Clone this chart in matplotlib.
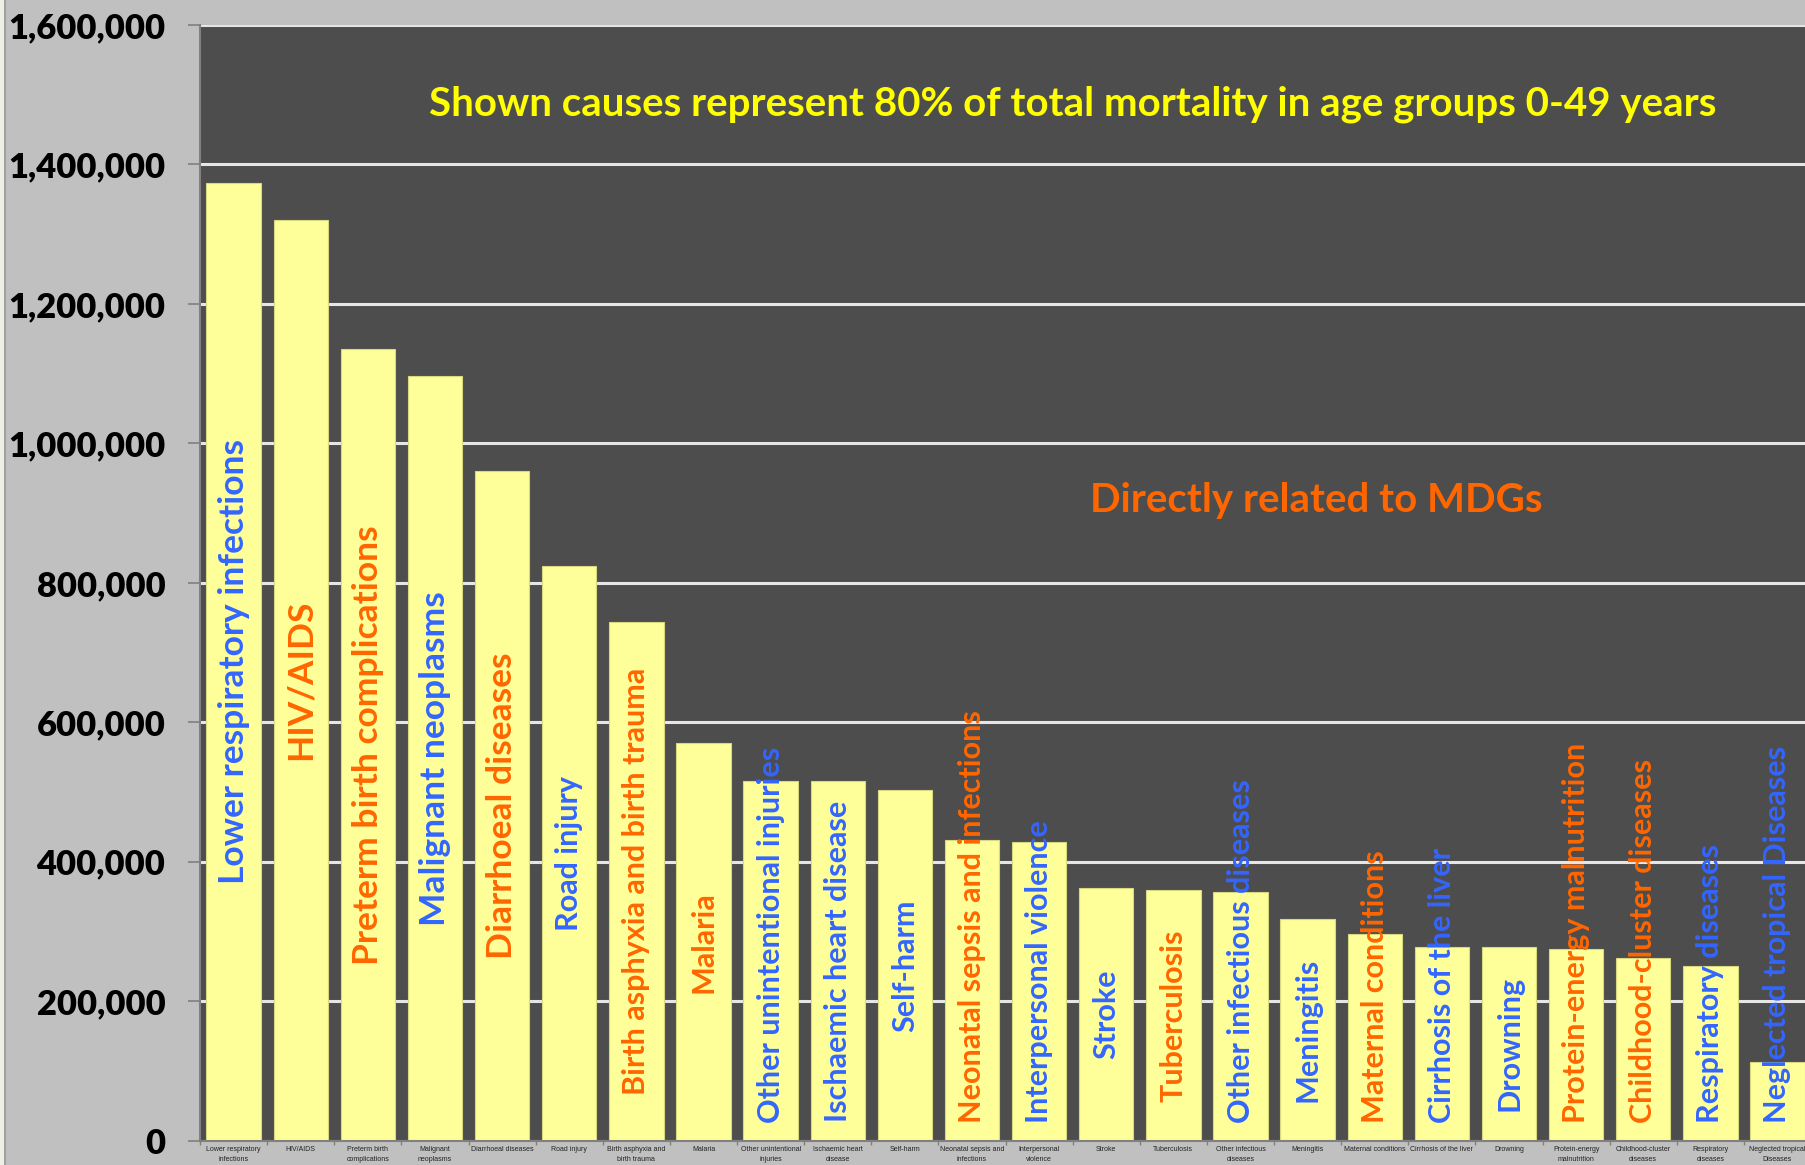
import numpy as np
import matplotlib.pyplot as plt
from matplotlib.patches import Rectangle
from matplotlib.ticker import FuncFormatter

# dati
causes = ['Lower respiratory infections', 'HIV/AIDS', 'Preterm birth complications',
          'Malignant neoplasms', 'Diarrhoeal diseases', 'Road injury',
          'Birth asphyxia and birth trauma', 'Malaria', 'Other unintentional injuries',
          'Ischaemic heart disease', 'Self-harm', 'Neonatal sepsis and infections',
          'Interpersonal violence', 'Stroke', 'Tuberculosis', 'Other infectious diseases',
          'Meningitis', 'Maternal conditions', 'Cirrhosis of the liver', 'Drowning',
          'Protein-energy malnutrition', 'Childhood-cluster diseases',
          'Respiratory diseases', 'Neglected tropical Diseases']
tick_labels = ['Lower respiratory\ninfections', 'HIV/AIDS', 'Preterm birth\ncomplications',
               'Malignant\nneoplasms', 'Diarrhoeal diseases', 'Road injury',
               'Birth asphyxia and\nbirth trauma', 'Malaria', 'Other unintentional\ninjuries',
               'Ischaemic heart\ndisease', 'Self-harm', 'Neonatal sepsis and\ninfections',
               'Interpersonal\nviolence', 'Stroke', 'Tuberculosis', 'Other infectious\ndiseases',
               'Meningitis', 'Maternal conditions', 'Cirrhosis of the liver', 'Drowning',
               'Protein-energy\nmalnutrition', 'Childhood-cluster\ndiseases',
               'Respiratory\ndiseases', 'Neglected tropical\nDiseases']
deaths = [1373500, 1321000, 1135500, 1096000, 961100, 824700, 743700, 570200,
          515700, 515200, 502800, 431500, 428200, 362300, 359000, 357300,
          317400, 296800, 278100, 278100, 274400, 261500, 250000, 113300]
# True = direttamente legato agli MDG (arancione)
mdg = [False, True, True, False, True, False, True, True, False, False, False, True,
       False, False, True, False, False, True, False, False, True, True, False, False]

blue = '#3366FF'
orange = '#FF6600'

fig = plt.figure(figsize=(18.06, 11.65), dpi=100, facecolor='#C0C0C0')
ax = fig.add_axes([0.1108, 0.0209, 0.892, 0.9576])
ax.set_facecolor('#4D4D4D')

x = np.arange(len(deaths))
ax.bar(x, deaths, width=0.81, color='#FFFF99', edgecolor='#D8D880', linewidth=0.8, zorder=2)

ax.set_xlim(-0.5, len(deaths) - 0.5)
ax.set_ylim(0, 1600000)
ax.set_yticks(np.arange(0, 1600001, 200000))
ax.yaxis.set_major_formatter(FuncFormatter(lambda v, p: '{:,.0f}'.format(v)))
ax.grid(axis='y', color='#E6E6E6', linewidth=2.2, zorder=1)
ax.set_axisbelow(True)

for lab in ax.get_yticklabels():
    lab.set_fontfamily('Lato')
    lab.set_fontweight('heavy')
    lab.set_fontsize(24.8)
ax.tick_params(axis='y', length=9, width=1.2, color='#808080', pad=16)

ax.set_xticks(x)
ax.set_xticklabels(tick_labels, fontsize=5, family='Liberation Sans', color='#222222',
                   linespacing=1.5)
ax.set_xticks(np.arange(-0.5, len(deaths), 1), minor=True)
ax.tick_params(axis='x', which='major', length=0, pad=4)
ax.tick_params(axis='x', which='minor', length=3, color='#808080', width=1)

for s in ['top', 'right']:
    ax.spines[s].set_visible(False)
ax.spines['left'].set_color('#808080')
ax.spines['left'].set_linewidth(1.5)
ax.spines['bottom'].set_color('#808080')
ax.spines['bottom'].set_linewidth(1.5)

# etichette dentro le barre
texts = []
for i in range(len(deaths)):
    size = 25.5 if i < 5 else 22
    c = orange if mdg[i] else blue
    t = ax.text(x[i], deaths[i] / 2, causes[i], rotation=90, ha='center', va='center',
                color=c, fontsize=size, family='Lato', fontweight='bold', zorder=3)
    texts.append(t)

fig.canvas.draw()
r = fig.canvas.get_renderer()
floor = 25000
for t in texts:
    bb = t.get_window_extent(r)
    y0 = ax.transData.inverted().transform((0, bb.y0))[1]
    if y0 < floor:
        t.set_y(t.get_position()[1] + floor - y0)

fig.text(0.594, 0.9107, 'Shown causes represent 80% of total mortality in age groups 0-49 years',
         ha='center', va='center', color='#FFFF00', fontsize=29, family='Lato', fontweight='bold')
fig.text(0.7287, 0.570, 'Directly related to MDGs', ha='center', va='center',
         color=orange, fontsize=29, family='Lato', fontweight='bold')

# bordo a sinistra
fig.patches.append(Rectangle((0, 0), 4 / 1806, 1, transform=fig.transFigure,
                             facecolor='#F0EFE6', edgecolor='none'))
fig.patches.append(Rectangle((4 / 1806, 0), 2 / 1806, 1, transform=fig.transFigure,
                             facecolor='#A0A0A0', edgecolor='none'))

plt.savefig('out.png', dpi=100, facecolor=fig.get_facecolor())
